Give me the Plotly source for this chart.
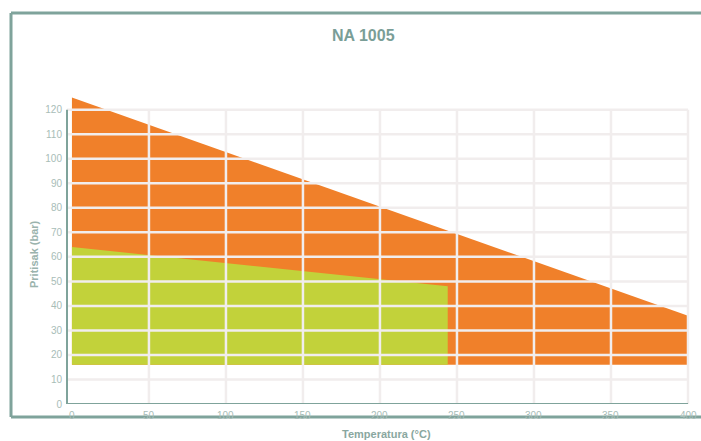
import plotly.graph_objects as go

# Data
temp_max = [0, 400]          # °C, orange (max working range)
press_max = [125, 36]        # bar
temp_low = [0, 244]          # °C, green range
press_low = [64, 48]         # bar
press_floor = 16             # bar, bottom of both shaded areas

x_ticks = [0, 50, 100, 150, 200, 250, 300, 350, 400]
y_ticks = [0, 10, 20, 30, 40, 50, 60, 70, 80, 90, 100, 110, 120]

ORANGE = "#f0802a"
GREEN = "#c2d23a"
FRAME = "#7fa39b"
GRID = "#f1eded"
TICK = "#a8bdb7"
FONT = "Liberation Sans, Arial, sans-serif"

PL, PR, PT, PB = 67, 690, 95, 404     # plot area in screen pixels
W, H = 701, 441
PW, PH = PR - PL, PB - PT


def px_x(sx):
    return (sx - PL) / PW


def px_y(sy):
    return (PB - sy) / PH


def polygon(xs, ys, floor):
    px = [xs[0], xs[-1], xs[-1]] + list(reversed(xs[:-1])) + [xs[0]]
    py = [floor, floor, ys[-1]] + list(reversed(ys[:-1])) + [floor]
    return px, py


fig = go.Figure()
ox, oy = polygon(temp_max, press_max, press_floor)
fig.add_trace(go.Scatter(x=ox, y=oy, fill="toself", fillcolor=ORANGE,
                         line=dict(width=0, color=ORANGE), mode="lines",
                         hoverinfo="skip", showlegend=False))
gx, gy = polygon(temp_low, press_low, press_floor)
fig.add_trace(go.Scatter(x=gx, y=gy, fill="toself", fillcolor=GREEN,
                         line=dict(width=0, color=GREEN), mode="lines",
                         hoverinfo="skip", showlegend=False))

x_lo, x_hi = -3.2, 401.3
grid_right = (400 - x_lo) / (x_hi - x_lo)

shapes = []
for v in y_ticks[1:]:
    shapes.append(dict(type="line", xref="paper", yref="y", x0=0, x1=grid_right,
                       y0=v, y1=v, line=dict(color=GRID, width=2.5), layer="above"))
for v in x_ticks[1:]:
    shapes.append(dict(type="line", xref="x", yref="y", x0=v, x1=v,
                       y0=0, y1=y_ticks[-1], line=dict(color=GRID, width=2.5), layer="above"))
shapes.append(dict(type="line", xref="paper", yref="y", x0=0, x1=0, y0=0, y1=y_ticks[-1],
                   line=dict(color=FRAME, width=2), layer="above"))
shapes.append(dict(type="line", xref="paper", yref="y", x0=0, x1=grid_right, y0=0, y1=0,
                   line=dict(color=FRAME, width=2), layer="above"))
fx0, fx1 = px_x(11), px_x(710)
fy0, fy1 = px_y(417), px_y(13)
for x0, x1, y0, y1 in [(fx0, fx1, fy1, fy1), (fx0, fx0, fy0, fy1), (fx0, fx1, fy0, fy0)]:
    shapes.append(dict(type="line", xref="paper", yref="paper", x0=x0, x1=x1, y0=y0, y1=y1,
                       line=dict(color=FRAME, width=3), layer="above"))

annotations = [
    dict(text="<b>NA 1005</b>", xref="paper", yref="paper", x=px_x(363), y=px_y(35),
         showarrow=False, xanchor="center", yanchor="middle",
         font=dict(size=16, color="#7a9e97", family=FONT)),
    dict(text="<b>Pritisak (bar)</b>", xref="paper", yref="paper", x=px_x(34), y=px_y(254),
         showarrow=False, textangle=-90, xanchor="center", yanchor="middle",
         font=dict(size=11, color="#9ab3ad", family=FONT)),
    dict(text="<b>Temperatura (°C)</b>", xref="paper", yref="paper", x=px_x(386), y=px_y(434),
         showarrow=False, xanchor="center", yanchor="middle",
         font=dict(size=11, color="#8aa7a0", family=FONT)),
]
for v in x_ticks:
    annotations.append(dict(text=str(v), xref="x", yref="paper", x=v, y=px_y(415),
                            showarrow=False, xanchor="center", yanchor="middle",
                            font=dict(size=10, color=TICK, family=FONT)))

fig.update_layout(
    width=W, height=H, autosize=False,
    margin=dict(l=PL, r=W - PR, t=PT, b=H - PB, autoexpand=False),
    paper_bgcolor="white", plot_bgcolor="white",
    shapes=shapes,
    font=dict(family=FONT),
    annotations=annotations,
)
fig.update_xaxes(range=[x_lo, x_hi], showticklabels=False, automargin=False,
                 showgrid=False, zeroline=False, showline=False, ticks="", fixedrange=True)
fig.update_yaxes(range=[0, 126], tickvals=y_ticks, ticktext=[str(v) for v in y_ticks],
                 showgrid=False, zeroline=False, showline=False, ticks="", automargin=False,
                 ticklabelstandoff=4,
                 tickfont=dict(size=10, color=TICK, family=FONT), fixedrange=True)

post = "document.body.style.margin='0';document.body.style.overflow='hidden';"
fig.write_html("out.html", config={"displayModeBar": False}, post_script=post)
